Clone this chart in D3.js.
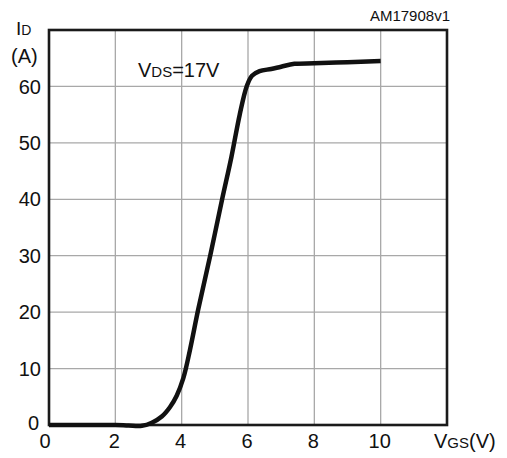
<!DOCTYPE html>
<html>
<head>
<meta charset="utf-8">
<script src="https://cdn.jsdelivr.net/npm/d3@7"></script>
<style>
  body { margin: 0; background: #fff; }
  text { font-family: "Liberation Sans", Arial, sans-serif; fill: #111; }
</style>
</head>
<body>
<script>
/* Transfer characteristic */
var vgs = [0, 1, 2, 2.4, 2.8, 3.1, 3.4, 3.65, 3.85, 4.05, 4.25, 4.5, 4.86,
           5.22, 5.5, 5.75, 5.96, 6.12, 6.35, 6.7, 7.0, 7.4, 8, 9, 10];
var id  = [0, 0, 0, -0.1, -0.15, 0.4, 1.5, 3.2, 5.2, 8.3, 13.3, 20.5, 30,
           40, 47.5, 55, 60, 61.9, 62.7, 63.1, 63.5, 64, 64.1, 64.3, 64.5];
var xTicks = [0, 2, 4, 6, 8, 10];
var yTicks = [0, 10, 20, 30, 40, 50, 60];

var W = 507, H = 458;
var x = d3.scaleLinear().domain([0, 12]).range([49, 447]);
var y = d3.scaleLinear().domain([0, 70]).range([425, 30]);

var svg = d3.select('body').append('svg')
    .attr('width', W).attr('height', H);

/* grid */
svg.append('g').selectAll('line')
    .data(d3.range(2, 12, 2)).enter().append('line')
    .attr('x1', function (d) { return x(d); })
    .attr('x2', function (d) { return x(d); })
    .attr('y1', y(0)).attr('y2', y(70))
    .attr('stroke', '#a8a8a8').attr('stroke-width', 1.3);
svg.append('g').selectAll('line')
    .data(d3.range(10, 70, 10)).enter().append('line')
    .attr('y1', function (d) { return y(d); })
    .attr('y2', function (d) { return y(d); })
    .attr('x1', x(0)).attr('x2', x(12))
    .attr('stroke', '#a8a8a8').attr('stroke-width', 1.3);

/* frame */
svg.append('rect')
    .attr('x', x(0)).attr('y', y(70))
    .attr('width', x(12) - x(0)).attr('height', y(0) - y(70))
    .attr('fill', 'none').attr('stroke', '#1a1a1a').attr('stroke-width', 2.6);

/* curve */
var pts = vgs.map(function (v, i) { return [v, id[i]]; });
var line = d3.line()
    .x(function (d) { return x(d[0]); })
    .y(function (d) { return y(d[1]); })
    .curve(d3.curveCatmullRom.alpha(0.5));
svg.append('path').datum(pts)
    .attr('d', line)
    .attr('fill', 'none').attr('stroke', '#111')
    .attr('stroke-width', 4.5).attr('stroke-linejoin', 'round')
    .attr('stroke-linecap', 'butt');

/* tick labels */
svg.append('g').selectAll('text')
    .data(xTicks).enter().append('text')
    .attr('x', function (d) { return x(d) - (d === 0 ? 4 : 1); })
    .attr('y', 448)
    .attr('text-anchor', 'middle')
    .attr('font-size', 20)
    .text(function (d) { return d; });
svg.append('g').selectAll('text')
    .data(yTicks).enter().append('text')
    .attr('x', function (d) { return d === 0 ? 39 : 41; })
    .attr('y', function (d) { return y(d) - (d === 0 ? 2.5 : 0); })
    .attr('dy', '0.36em')
    .attr('text-anchor', 'end')
    .attr('font-size', 20)
    .text(function (d) { return d; });

/* axis titles */
var t = svg.append('text').attr('x', 16).attr('y', 35).attr('font-size', 19);
t.append('tspan').text('I');
t.append('tspan').attr('font-size', 14).text('D');
svg.append('text').attr('x', 11).attr('y', 63).attr('font-size', 20).text('(A)');

var g = svg.append('text').attr('x', 434).attr('y', 448).attr('font-size', 20);
g.append('tspan').text('V');
g.append('tspan').attr('font-size', 15).text('GS');
g.append('tspan').text('(V)');

var v = svg.append('text').attr('x', 138).attr('y', 77).attr('font-size', 20);
v.append('tspan').text('V');
v.append('tspan').attr('font-size', 15).text('DS');
v.append('tspan').text('=17V');

svg.append('text')
    .attr('x', 450).attr('y', 21)
    .attr('text-anchor', 'end')
    .attr('font-size', 15)
    .text('AM17908v1');
</script>
</body>
</html>
